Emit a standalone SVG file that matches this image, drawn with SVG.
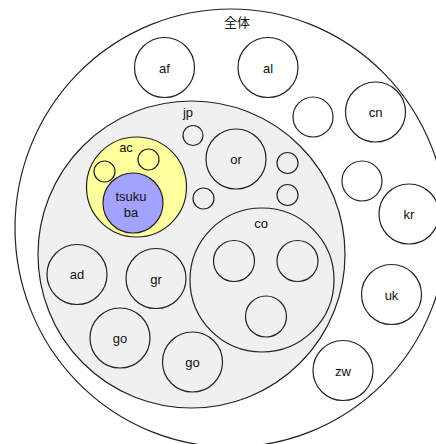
<svg xmlns="http://www.w3.org/2000/svg" width="436" height="444" viewBox="0 0 436 444">
<style>
circle, ellipse { stroke: #222; stroke-width: 1.2; fill: none; }
.gray { fill: #f0f0f0; }
.yellow { fill: #ffff9e; }
.blue { fill: #a3a3ff; }
text { font-family: "Liberation Sans", Arial, "Noto Sans CJK JP", sans-serif; font-size: 13px; fill: #111; text-anchor: middle; dominant-baseline: central; }
</style>
<rect width="436" height="444" fill="#fff"/>
<g id="zentai">
  <ellipse cx="231" cy="228" rx="216" ry="219"/>
  <text x="237" y="22">全体</text>
</g>
<g id="af"><circle cx="164.5" cy="67.5" r="30"/><text x="164.5" y="68">af</text></g>
<g id="al"><circle cx="268" cy="67.5" r="30"/><text x="268" y="68">al</text></g>
<g id="w1"><circle cx="313" cy="117" r="20"/></g>
<g id="cn"><circle cx="375.5" cy="112" r="30"/><text x="375.5" y="112">cn</text></g>
<g id="w2"><circle cx="362" cy="181" r="20"/></g>
<g id="kr"><circle cx="409" cy="214" r="30"/><text x="409" y="214">kr</text></g>
<g id="uk"><circle cx="391.5" cy="294.5" r="30"/><text x="391.5" y="295">uk</text></g>
<g id="zw"><circle cx="343" cy="370.5" r="30"/><text x="343" y="371">zw</text></g>
<g id="jp">
  <circle class="gray" cx="191.5" cy="254.5" r="153.5"/>
  <text x="188" y="112">jp</text>
</g>
<g id="jp1"><circle cx="193" cy="135.5" r="10"/></g>
<g id="or"><circle cx="236" cy="159" r="30"/><text x="236" y="159">or</text></g>
<g id="jp2"><circle cx="287.5" cy="163" r="10.5"/></g>
<g id="jp3"><circle cx="287.5" cy="195" r="10.5"/></g>
<g id="jp4"><circle cx="203.5" cy="198.5" r="10.5"/></g>
<g id="co">
  <circle cx="262" cy="280" r="72"/>
  <text x="261" y="223">co</text>
</g>
<g id="co1"><circle cx="234" cy="261" r="20.5"/></g>
<g id="co2"><circle cx="297.5" cy="261" r="20.5"/></g>
<g id="co3"><circle cx="266" cy="316.5" r="20.5"/></g>
<g id="ad"><circle cx="77" cy="274.5" r="30"/><text x="77" y="274">ad</text></g>
<g id="gr"><circle cx="156" cy="278.5" r="30"/><text x="156" y="279">gr</text></g>
<g id="go1"><circle cx="120" cy="338" r="30"/><text x="120" y="338">go</text></g>
<g id="go2"><circle cx="192.5" cy="362" r="30"/><text x="192.5" y="362">go</text></g>
<g id="ac">
  <circle class="yellow" cx="136.5" cy="187" r="50"/>
  <text x="126" y="147">ac</text>
</g>
<g id="ac1"><circle cx="104.5" cy="171.5" r="10.5"/></g>
<g id="ac2"><circle cx="148.5" cy="159.5" r="10.5"/></g>
<g id="tsukuba">
  <circle class="blue" cx="133" cy="203" r="30"/>
  <text x="131" y="196">tsuku</text>
  <text x="131" y="212">ba</text>
</g>
<g id="connectors"></g>
</svg>
